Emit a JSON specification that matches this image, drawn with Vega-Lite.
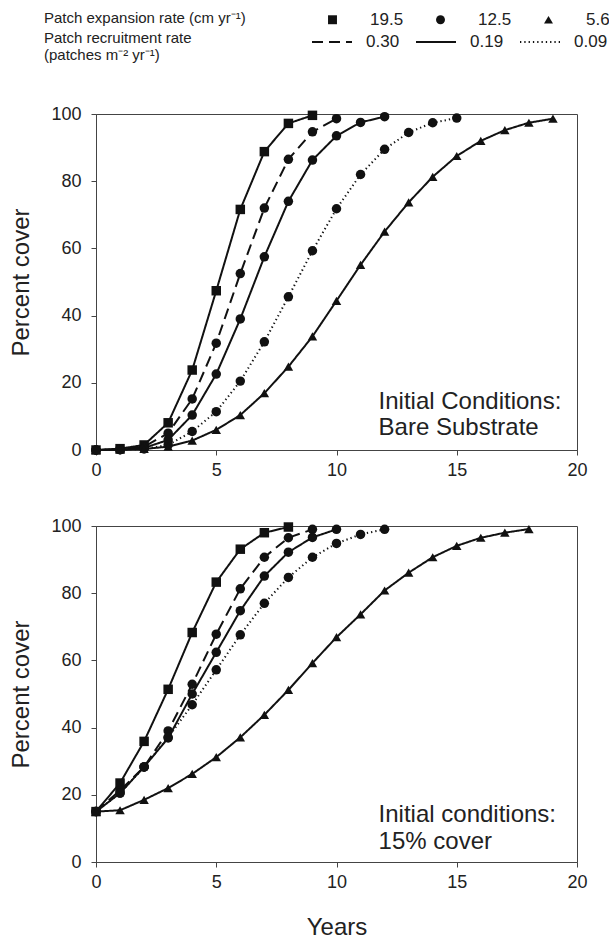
{
  "$schema": "https://vega.github.io/schema/vega-lite/v6.json",
  "padding": {"left": 9, "top": 10, "right": 10, "bottom": 5},
  "config": {
    "font": "Liberation Sans",
    "view": {"stroke": "#444", "strokeWidth": 1},
    "axis": {"grid": false, "domainColor": "#444", "tickColor": "#444", "labelColor": "#222", "titleColor": "#222", "labelFontSize": 18, "titleFontSize": 24, "titleFontWeight": "normal", "tickSize": 5, "labelFlush": false},
    "legend": {"labelColor": "#222", "titleColor": "#222", "titleFontWeight": "normal", "titleLimit": 400}
  },
  "datasets": {
    "curves": [
      {"panel":"bare","series":"sq","expansion":"19.5","recruitment":"0.19","year":0,"cover":0},
      {"panel":"bare","series":"sq","expansion":"19.5","recruitment":"0.19","year":1,"cover":0.4},
      {"panel":"bare","series":"sq","expansion":"19.5","recruitment":"0.19","year":2,"cover":1.5},
      {"panel":"bare","series":"sq","expansion":"19.5","recruitment":"0.19","year":3,"cover":8.1},
      {"panel":"bare","series":"sq","expansion":"19.5","recruitment":"0.19","year":4,"cover":23.8},
      {"panel":"bare","series":"sq","expansion":"19.5","recruitment":"0.19","year":5,"cover":47.4},
      {"panel":"bare","series":"sq","expansion":"19.5","recruitment":"0.19","year":6,"cover":71.6},
      {"panel":"bare","series":"sq","expansion":"19.5","recruitment":"0.19","year":7,"cover":88.8},
      {"panel":"bare","series":"sq","expansion":"19.5","recruitment":"0.19","year":8,"cover":97.2},
      {"panel":"bare","series":"sq","expansion":"19.5","recruitment":"0.19","year":9,"cover":99.6},
      {"panel":"bare","series":"cd","expansion":"12.5","recruitment":"0.30","year":0,"cover":0},
      {"panel":"bare","series":"cd","expansion":"12.5","recruitment":"0.30","year":1,"cover":0.2},
      {"panel":"bare","series":"cd","expansion":"12.5","recruitment":"0.30","year":2,"cover":1.0},
      {"panel":"bare","series":"cd","expansion":"12.5","recruitment":"0.30","year":3,"cover":5.0},
      {"panel":"bare","series":"cd","expansion":"12.5","recruitment":"0.30","year":4,"cover":15.2},
      {"panel":"bare","series":"cd","expansion":"12.5","recruitment":"0.30","year":5,"cover":31.8},
      {"panel":"bare","series":"cd","expansion":"12.5","recruitment":"0.30","year":6,"cover":52.5},
      {"panel":"bare","series":"cd","expansion":"12.5","recruitment":"0.30","year":7,"cover":72.0},
      {"panel":"bare","series":"cd","expansion":"12.5","recruitment":"0.30","year":8,"cover":86.5},
      {"panel":"bare","series":"cd","expansion":"12.5","recruitment":"0.30","year":9,"cover":94.7},
      {"panel":"bare","series":"cd","expansion":"12.5","recruitment":"0.30","year":10,"cover":98.6},
      {"panel":"bare","series":"cs","expansion":"12.5","recruitment":"0.19","year":0,"cover":0},
      {"panel":"bare","series":"cs","expansion":"12.5","recruitment":"0.19","year":1,"cover":0.1},
      {"panel":"bare","series":"cs","expansion":"12.5","recruitment":"0.19","year":2,"cover":0.6},
      {"panel":"bare","series":"cs","expansion":"12.5","recruitment":"0.19","year":3,"cover":3.0},
      {"panel":"bare","series":"cs","expansion":"12.5","recruitment":"0.19","year":4,"cover":10.4},
      {"panel":"bare","series":"cs","expansion":"12.5","recruitment":"0.19","year":5,"cover":22.6},
      {"panel":"bare","series":"cs","expansion":"12.5","recruitment":"0.19","year":6,"cover":39.0},
      {"panel":"bare","series":"cs","expansion":"12.5","recruitment":"0.19","year":7,"cover":57.5},
      {"panel":"bare","series":"cs","expansion":"12.5","recruitment":"0.19","year":8,"cover":74.0},
      {"panel":"bare","series":"cs","expansion":"12.5","recruitment":"0.19","year":9,"cover":86.3},
      {"panel":"bare","series":"cs","expansion":"12.5","recruitment":"0.19","year":10,"cover":93.5},
      {"panel":"bare","series":"cs","expansion":"12.5","recruitment":"0.19","year":11,"cover":97.5},
      {"panel":"bare","series":"cs","expansion":"12.5","recruitment":"0.19","year":12,"cover":99.2},
      {"panel":"bare","series":"ct","expansion":"12.5","recruitment":"0.09","year":0,"cover":0},
      {"panel":"bare","series":"ct","expansion":"12.5","recruitment":"0.09","year":1,"cover":0.1},
      {"panel":"bare","series":"ct","expansion":"12.5","recruitment":"0.09","year":2,"cover":0.3},
      {"panel":"bare","series":"ct","expansion":"12.5","recruitment":"0.09","year":3,"cover":1.5},
      {"panel":"bare","series":"ct","expansion":"12.5","recruitment":"0.09","year":4,"cover":5.5},
      {"panel":"bare","series":"ct","expansion":"12.5","recruitment":"0.09","year":5,"cover":11.4},
      {"panel":"bare","series":"ct","expansion":"12.5","recruitment":"0.09","year":6,"cover":20.5},
      {"panel":"bare","series":"ct","expansion":"12.5","recruitment":"0.09","year":7,"cover":32.2},
      {"panel":"bare","series":"ct","expansion":"12.5","recruitment":"0.09","year":8,"cover":45.6},
      {"panel":"bare","series":"ct","expansion":"12.5","recruitment":"0.09","year":9,"cover":59.3},
      {"panel":"bare","series":"ct","expansion":"12.5","recruitment":"0.09","year":10,"cover":71.8},
      {"panel":"bare","series":"ct","expansion":"12.5","recruitment":"0.09","year":11,"cover":82.0},
      {"panel":"bare","series":"ct","expansion":"12.5","recruitment":"0.09","year":12,"cover":89.5},
      {"panel":"bare","series":"ct","expansion":"12.5","recruitment":"0.09","year":13,"cover":94.5},
      {"panel":"bare","series":"ct","expansion":"12.5","recruitment":"0.09","year":14,"cover":97.4},
      {"panel":"bare","series":"ct","expansion":"12.5","recruitment":"0.09","year":15,"cover":98.8},
      {"panel":"bare","series":"tr","expansion":"5.6","recruitment":"0.19","year":0,"cover":0},
      {"panel":"bare","series":"tr","expansion":"5.6","recruitment":"0.19","year":1,"cover":0.1},
      {"panel":"bare","series":"tr","expansion":"5.6","recruitment":"0.19","year":2,"cover":0.3},
      {"panel":"bare","series":"tr","expansion":"5.6","recruitment":"0.19","year":3,"cover":1.0},
      {"panel":"bare","series":"tr","expansion":"5.6","recruitment":"0.19","year":4,"cover":2.8},
      {"panel":"bare","series":"tr","expansion":"5.6","recruitment":"0.19","year":5,"cover":6.0},
      {"panel":"bare","series":"tr","expansion":"5.6","recruitment":"0.19","year":6,"cover":10.4},
      {"panel":"bare","series":"tr","expansion":"5.6","recruitment":"0.19","year":7,"cover":16.9},
      {"panel":"bare","series":"tr","expansion":"5.6","recruitment":"0.19","year":8,"cover":24.8},
      {"panel":"bare","series":"tr","expansion":"5.6","recruitment":"0.19","year":9,"cover":33.8},
      {"panel":"bare","series":"tr","expansion":"5.6","recruitment":"0.19","year":10,"cover":44.4},
      {"panel":"bare","series":"tr","expansion":"5.6","recruitment":"0.19","year":11,"cover":55.1},
      {"panel":"bare","series":"tr","expansion":"5.6","recruitment":"0.19","year":12,"cover":65.0},
      {"panel":"bare","series":"tr","expansion":"5.6","recruitment":"0.19","year":13,"cover":73.7},
      {"panel":"bare","series":"tr","expansion":"5.6","recruitment":"0.19","year":14,"cover":81.3},
      {"panel":"bare","series":"tr","expansion":"5.6","recruitment":"0.19","year":15,"cover":87.5},
      {"panel":"bare","series":"tr","expansion":"5.6","recruitment":"0.19","year":16,"cover":92.0},
      {"panel":"bare","series":"tr","expansion":"5.6","recruitment":"0.19","year":17,"cover":95.2},
      {"panel":"bare","series":"tr","expansion":"5.6","recruitment":"0.19","year":18,"cover":97.4},
      {"panel":"bare","series":"tr","expansion":"5.6","recruitment":"0.19","year":19,"cover":98.6},
      {"panel":"p15","series":"sq","expansion":"19.5","recruitment":"0.19","year":0,"cover":15},
      {"panel":"p15","series":"sq","expansion":"19.5","recruitment":"0.19","year":1,"cover":23.5},
      {"panel":"p15","series":"sq","expansion":"19.5","recruitment":"0.19","year":2,"cover":35.9},
      {"panel":"p15","series":"sq","expansion":"19.5","recruitment":"0.19","year":3,"cover":51.4},
      {"panel":"p15","series":"sq","expansion":"19.5","recruitment":"0.19","year":4,"cover":68.3},
      {"panel":"p15","series":"sq","expansion":"19.5","recruitment":"0.19","year":5,"cover":83.3},
      {"panel":"p15","series":"sq","expansion":"19.5","recruitment":"0.19","year":6,"cover":93.1},
      {"panel":"p15","series":"sq","expansion":"19.5","recruitment":"0.19","year":7,"cover":98.0},
      {"panel":"p15","series":"sq","expansion":"19.5","recruitment":"0.19","year":8,"cover":99.7},
      {"panel":"p15","series":"cd","expansion":"12.5","recruitment":"0.30","year":0,"cover":15},
      {"panel":"p15","series":"cd","expansion":"12.5","recruitment":"0.30","year":1,"cover":21.3},
      {"panel":"p15","series":"cd","expansion":"12.5","recruitment":"0.30","year":2,"cover":28.3},
      {"panel":"p15","series":"cd","expansion":"12.5","recruitment":"0.30","year":3,"cover":39.0},
      {"panel":"p15","series":"cd","expansion":"12.5","recruitment":"0.30","year":4,"cover":52.9},
      {"panel":"p15","series":"cd","expansion":"12.5","recruitment":"0.30","year":5,"cover":67.8},
      {"panel":"p15","series":"cd","expansion":"12.5","recruitment":"0.30","year":6,"cover":81.3},
      {"panel":"p15","series":"cd","expansion":"12.5","recruitment":"0.30","year":7,"cover":90.7},
      {"panel":"p15","series":"cd","expansion":"12.5","recruitment":"0.30","year":8,"cover":96.5},
      {"panel":"p15","series":"cd","expansion":"12.5","recruitment":"0.30","year":9,"cover":99.0},
      {"panel":"p15","series":"cs","expansion":"12.5","recruitment":"0.19","year":0,"cover":15},
      {"panel":"p15","series":"cs","expansion":"12.5","recruitment":"0.19","year":1,"cover":20.5},
      {"panel":"p15","series":"cs","expansion":"12.5","recruitment":"0.19","year":2,"cover":28.3},
      {"panel":"p15","series":"cs","expansion":"12.5","recruitment":"0.19","year":3,"cover":36.9},
      {"panel":"p15","series":"cs","expansion":"12.5","recruitment":"0.19","year":4,"cover":50.0},
      {"panel":"p15","series":"cs","expansion":"12.5","recruitment":"0.19","year":5,"cover":62.4},
      {"panel":"p15","series":"cs","expansion":"12.5","recruitment":"0.19","year":6,"cover":74.8},
      {"panel":"p15","series":"cs","expansion":"12.5","recruitment":"0.19","year":7,"cover":85.1},
      {"panel":"p15","series":"cs","expansion":"12.5","recruitment":"0.19","year":8,"cover":92.2},
      {"panel":"p15","series":"cs","expansion":"12.5","recruitment":"0.19","year":9,"cover":96.6},
      {"panel":"p15","series":"cs","expansion":"12.5","recruitment":"0.19","year":10,"cover":99.0},
      {"panel":"p15","series":"ct","expansion":"12.5","recruitment":"0.09","year":0,"cover":15},
      {"panel":"p15","series":"ct","expansion":"12.5","recruitment":"0.09","year":1,"cover":20.5},
      {"panel":"p15","series":"ct","expansion":"12.5","recruitment":"0.09","year":2,"cover":28.3},
      {"panel":"p15","series":"ct","expansion":"12.5","recruitment":"0.09","year":3,"cover":37.1},
      {"panel":"p15","series":"ct","expansion":"12.5","recruitment":"0.09","year":4,"cover":46.8},
      {"panel":"p15","series":"ct","expansion":"12.5","recruitment":"0.09","year":5,"cover":57.2},
      {"panel":"p15","series":"ct","expansion":"12.5","recruitment":"0.09","year":6,"cover":67.6},
      {"panel":"p15","series":"ct","expansion":"12.5","recruitment":"0.09","year":7,"cover":77.0},
      {"panel":"p15","series":"ct","expansion":"12.5","recruitment":"0.09","year":8,"cover":84.7},
      {"panel":"p15","series":"ct","expansion":"12.5","recruitment":"0.09","year":9,"cover":90.7},
      {"panel":"p15","series":"ct","expansion":"12.5","recruitment":"0.09","year":10,"cover":94.8},
      {"panel":"p15","series":"ct","expansion":"12.5","recruitment":"0.09","year":11,"cover":97.5},
      {"panel":"p15","series":"ct","expansion":"12.5","recruitment":"0.09","year":12,"cover":99.0},
      {"panel":"p15","series":"tr","expansion":"5.6","recruitment":"0.19","year":0,"cover":15},
      {"panel":"p15","series":"tr","expansion":"5.6","recruitment":"0.19","year":1,"cover":15.4},
      {"panel":"p15","series":"tr","expansion":"5.6","recruitment":"0.19","year":2,"cover":18.5},
      {"panel":"p15","series":"tr","expansion":"5.6","recruitment":"0.19","year":3,"cover":22.0},
      {"panel":"p15","series":"tr","expansion":"5.6","recruitment":"0.19","year":4,"cover":26.2},
      {"panel":"p15","series":"tr","expansion":"5.6","recruitment":"0.19","year":5,"cover":31.2},
      {"panel":"p15","series":"tr","expansion":"5.6","recruitment":"0.19","year":6,"cover":37.1},
      {"panel":"p15","series":"tr","expansion":"5.6","recruitment":"0.19","year":7,"cover":43.8},
      {"panel":"p15","series":"tr","expansion":"5.6","recruitment":"0.19","year":8,"cover":51.2},
      {"panel":"p15","series":"tr","expansion":"5.6","recruitment":"0.19","year":9,"cover":59.2},
      {"panel":"p15","series":"tr","expansion":"5.6","recruitment":"0.19","year":10,"cover":66.9},
      {"panel":"p15","series":"tr","expansion":"5.6","recruitment":"0.19","year":11,"cover":73.7},
      {"panel":"p15","series":"tr","expansion":"5.6","recruitment":"0.19","year":12,"cover":80.8},
      {"panel":"p15","series":"tr","expansion":"5.6","recruitment":"0.19","year":13,"cover":86.1},
      {"panel":"p15","series":"tr","expansion":"5.6","recruitment":"0.19","year":14,"cover":90.7},
      {"panel":"p15","series":"tr","expansion":"5.6","recruitment":"0.19","year":15,"cover":94.1},
      {"panel":"p15","series":"tr","expansion":"5.6","recruitment":"0.19","year":16,"cover":96.5},
      {"panel":"p15","series":"tr","expansion":"5.6","recruitment":"0.19","year":17,"cover":98.0},
      {"panel":"p15","series":"tr","expansion":"5.6","recruitment":"0.19","year":18,"cover":99.1}
    ]
  },
  "resolve": {"legend": {"shape": "independent", "strokeDash": "independent"}},
  "spacing": 36,
  "vconcat": [
    {
      "width": 481,
      "height": 336,
      "layer": [
        {
          "data": {"name": "curves"},
          "transform": [{"filter": "datum.panel === 'bare'"}],
          "mark": {"type": "line", "color": "#111"},
          "encoding": {
            "x": {"field": "year", "type": "quantitative", "scale": {"domain": [0, 20]}, "axis": {"title": null, "values": [0, 5, 10, 15, 20], "labelPadding": 6}},
            "y": {"field": "cover", "type": "quantitative", "scale": {"domain": [0, 100]}, "axis": {"title": "Percent cover", "values": [0, 20, 40, 60, 80, 100], "labelPadding": 10, "titlePadding": 17}},
            "detail": {"field": "series"},
            "strokeWidth": {"field": "recruitment", "type": "nominal", "scale": {"domain": ["0.30", "0.19", "0.09"], "range": [2, 2, 1.3]}, "legend": null},
            "strokeDash": {"field": "recruitment", "type": "nominal", "scale": {"domain": ["0.30", "0.19", "0.09"], "range": [[11, 6], [1, 0], [1.3, 3]]},
              "legend": {"orient": "none", "legendX": -52, "legendY": -83, "direction": "horizontal", "titleOrient": "left", "titleAnchor": "start", "title": ["Patch recruitment rate", "(patches m⁻² yr⁻¹)"], "titleFontSize": 15, "titleLineHeight": 17, "titlePadding": 129, "labelFontSize": 17, "labelOffset": 23, "columnPadding": 12, "symbolType": "M-2,0H2", "symbolSize": 400, "symbolStrokeWidth": 2, "symbolStrokeColor": "#111"}}
          }
        },
        {
          "data": {"name": "curves"},
          "transform": [{"filter": "datum.panel === 'bare'"}],
          "mark": {"type": "point", "filled": true, "color": "#111", "size": 90, "opacity": 1},
          "encoding": {
            "x": {"field": "year", "type": "quantitative"},
            "y": {"field": "cover", "type": "quantitative"},
            "shape": {"field": "expansion", "type": "nominal", "scale": {"domain": ["19.5", "12.5", "5.6"], "range": ["square", "circle", "triangle-up"]},
              "legend": {"orient": "none", "legendX": -52, "legendY": -103, "direction": "horizontal", "titleOrient": "left", "titleAnchor": "start", "title": "Patch expansion rate (cm yr⁻¹)", "titleFontSize": 15, "titlePadding": 78, "labelFontSize": 17, "labelOffset": 29, "columnPadding": 28, "symbolSize": 80, "symbolFillColor": "#111", "symbolStrokeColor": "#111"}}
          }
        },
        {
          "data": {"values": [{}]},
          "mark": {"type": "text", "align": "left", "baseline": "alphabetic", "fontSize": 24, "lineHeight": 26, "color": "#222"},
          "encoding": {
            "x": {"datum": 11.75, "type": "quantitative"},
            "y": {"datum": 12.3, "type": "quantitative"},
            "text": {"value": ["Initial Conditions:", "Bare Substrate"]}
          }
        }
      ]
    },
    {
      "width": 481,
      "height": 336,
      "layer": [
        {
          "data": {"name": "curves"},
          "transform": [{"filter": "datum.panel === 'p15'"}],
          "mark": {"type": "line", "color": "#111"},
          "encoding": {
            "x": {"field": "year", "type": "quantitative", "scale": {"domain": [0, 20]}, "axis": {"title": "Years", "values": [0, 5, 10, 15, 20], "labelPadding": 6, "titlePadding": 24}},
            "y": {"field": "cover", "type": "quantitative", "scale": {"domain": [0, 100]}, "axis": {"title": "Percent cover", "values": [0, 20, 40, 60, 80, 100], "labelPadding": 10, "titlePadding": 17}},
            "detail": {"field": "series"},
            "strokeWidth": {"field": "recruitment", "type": "nominal", "scale": {"domain": ["0.30", "0.19", "0.09"], "range": [2, 2, 1.3]}, "legend": null},
            "strokeDash": {"field": "recruitment", "type": "nominal", "scale": {"domain": ["0.30", "0.19", "0.09"], "range": [[11, 6], [1, 0], [1.3, 3]]}, "legend": null}
          }
        },
        {
          "data": {"name": "curves"},
          "transform": [{"filter": "datum.panel === 'p15'"}],
          "mark": {"type": "point", "filled": true, "color": "#111", "size": 90, "opacity": 1},
          "encoding": {
            "x": {"field": "year", "type": "quantitative"},
            "y": {"field": "cover", "type": "quantitative"},
            "shape": {"field": "expansion", "type": "nominal", "scale": {"domain": ["19.5", "12.5", "5.6"], "range": ["square", "circle", "triangle-up"]}, "legend": null}
          }
        },
        {
          "data": {"values": [{}]},
          "mark": {"type": "text", "align": "left", "baseline": "alphabetic", "fontSize": 24, "lineHeight": 27, "color": "#222"},
          "encoding": {
            "x": {"datum": 11.75, "type": "quantitative"},
            "y": {"datum": 12.0, "type": "quantitative"},
            "text": {"value": ["Initial conditions:", "15% cover"]}
          }
        }
      ]
    }
  ]
}
